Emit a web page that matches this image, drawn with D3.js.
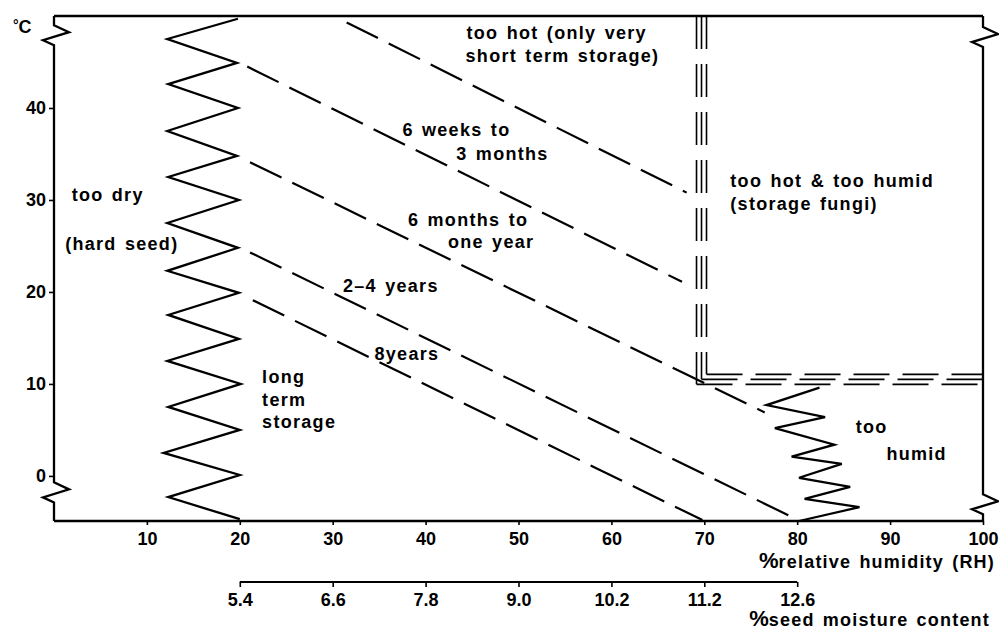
<!DOCTYPE html>
<html>
<head>
<meta charset="utf-8">
<script src="https://cdn.jsdelivr.net/npm/d3@7"></script>
<style>
	body { margin: 0; background: #fff; }
	svg { display: block; }
	.tick text { font-family: "Liberation Sans", Arial, sans-serif; font-weight: bold; font-size: 18px; fill: #000; }
	.tick line { stroke: #000; stroke-width: 1.6; }
	.lbl { font-family: "Liberation Sans", Arial, sans-serif; font-weight: bold; font-size: 18px; letter-spacing: 1.3px; word-spacing: 2px; fill: #000; }
</style>
</head>
<body>
<div id="chart"></div>
<script>

// % relative humidity ticks and temperature ticks
var rhTicks = [10, 20, 30, 40, 50, 60, 70, 80, 90, 100];
var tempTicks = [0, 10, 20, 30, 40];

// second scale: seed moisture content at given RH
var moistureRH = [20, 30, 40, 50, 60, 70, 80];
var moistureLabels = ["5.4", "6.6", "7.8", "9.0", "10.2", "11.2", "12.6"];

// "too dry" zig-zag boundary [RH, degC]
var dryZigzag = [
	[19.8, 49.7], [12.2, 47.5], [19.7, 44.9], [12.3, 42.6], [19.8, 40.0],
	[12.2, 37.5], [19.7, 34.8], [12.3, 32.5], [19.9, 30.0], [12.2, 27.5],
	[19.8, 24.8], [12.2, 22.3], [19.9, 19.9], [12.3, 17.5], [19.9, 14.9],
	[12.2, 12.5], [20.1, 10.0], [12.3, 7.5], [20.0, 5.0], [11.8, 2.5],
	[20.0, 0.1], [12.3, -2.3], [20.0, -4.7]
];

// "too humid" zig-zag boundary [RH, degC]
var humidZigzag = [
	[82.4, 9.6], [76.7, 7.7], [83.0, 6.4], [77.6, 5.2], [84.0, 3.4],
	[79.4, 2.1], [84.8, 1.3], [80.2, -0.2], [85.7, -1.2], [80.8, -2.5],
	[86.7, -3.4], [80.2, -4.9]
];

// dashed storage-life limits, start and end [RH, degC]
var storageLimits = [
	[[31.5, 49.3], [68.1, 30.8]],
	[[20.8, 44.5], [67.6, 21.1]],
	[[21.1, 34.1], [76.5, 6.9]],
	[[21.1, 24.3], [79.7, -4.6]],
	[[21.4, 19.1], [69.8, -4.8]]
];

// too hot / too humid corner [RH, degC]
var hotHumidCorner = [69.7, 10.5];

// axis break marks (degC) on left and right frame
var leftBreaks = [49.0, -0.7];
var rightBreaks = [48.8, -2.0];

// region labels: text, RH, degC (baseline start)
var regionLabels = [
	["too hot (only very", 44.4, 47.5],
	["short term storage)", 44.3, 45.0],
	["6 weeks to", 37.5, 37.0],
	["3 months", 43.3, 34.3],
	["6 months to", 38.1, 27.2],
	["one year", 42.4, 24.8],
	["2\u20134 years", 31.1, 20.0],
	["8years", 34.5, 12.6],
	["long", 22.4, 10.1],
	["term", 22.4, 7.6],
	["storage", 22.4, 5.2],
	["too dry", 1.9, 29.9],
	["(hard seed)", 1.2, 24.6],
	["too hot & too humid", 72.8, 31.4],
	["(storage fungi)", 72.8, 28.9],
	["too", 86.3, 4.7],
	["humid", 89.6, 1.7]
];


var CHART = (function(CHART, undefined)
{
	var margin = {top: 16, right: 16, bottom: 111, left: 54};
	var W = 999, H = 632;
	var width = W - margin.left - margin.right;
	var height = H - margin.top - margin.bottom;

	CHART.init = function()
	{
		var svg = d3.select("#chart").append("svg")
		.attr("width", W)
		.attr("height", H)
		.style("background", "#fff");

		var g = svg.append("g")
		.attr("transform", "translate(" + margin.left + "," + margin.top + ")");

		var x = d3.scaleLinear().domain([0, 100]).range([0, width]);
		var y = d3.scaleLinear().domain([-4.9, 50]).range([height, 0]);

		CHART.drawFrame(g, x, y);
		CHART.drawAxes(g, x, y);
		CHART.drawBoundaries(g, x, y);
		CHART.drawLabels(g, x, y);
	}


	CHART.breakPath = function(xp, yStarts)
	{
		// vertical frame side with a zig-zag break at each temp
		var zig = [[15, 7], [-11, 15], [0, 20]];
		var d = "M" + xp + ",0";
		yStarts.forEach(function(yy)
		{
			d += "L" + xp + "," + yy;
			zig.forEach(function(p)
			{
				d += "L" + (xp + p[0]) + "," + (yy + p[1]);
			})
		})
		d += "L" + xp + "," + height;
		return d;
	}


	CHART.drawFrame = function(g, x, y)
	{
		var frame = g.append("g")
		.attr("class", "frame")
		.attr("fill", "none")
		.attr("stroke", "#000")
		.attr("stroke-width", 2.3)
		.attr("stroke-linejoin", "miter");

		frame.append("line")
		.attr("x1", x(0)).attr("x2", x(100))
		.attr("y1", 0).attr("y2", 0);

		frame.append("line")
		.attr("x1", x(0)).attr("x2", x(100))
		.attr("y1", height).attr("y2", height);

		frame.append("path")
		.attr("d", CHART.breakPath(x(0), leftBreaks.map(y)));

		frame.append("path")
		.attr("d", CHART.breakPath(x(100), rightBreaks.map(y)));
	}


	CHART.drawAxes = function(g, x, y)
	{
		var xAxis = g.append("g")
		.attr("class", "xAxis")
		.attr("transform", "translate(0," + height + ")")
		.call(d3.axisBottom(x).tickValues(rhTicks).tickSize(4).tickPadding(7));
		xAxis.select(".domain").remove();

		var yAxis = g.append("g")
		.attr("class", "yAxis")
		.call(d3.axisLeft(y).tickValues(tempTicks).tickSize(5).tickPadding(3));
		yAxis.select(".domain").remove();

		// seed moisture scale, sits under the RH axis
		var mY = 566;
		var mAxis = g.append("g")
		.attr("class", "moistAxis")
		.attr("transform", "translate(0," + mY + ")")
		.call(d3.axisBottom(x).tickValues(moistureRH)
			.tickFormat(function(d, i) { return moistureLabels[i]; })
			.tickSize(5).tickPadding(6));
		mAxis.select(".domain").remove();

		mAxis.append("line")
		.attr("x1", x(moistureRH[0]))
		.attr("x2", x(moistureRH[moistureRH.length - 1]))
		.attr("stroke", "#000")
		.attr("stroke-width", 2);

		var deg = g.append("text")
		.attr("class", "lbl")
		.attr("x", -41)
		.attr("y", 17)
		.style("letter-spacing", "0px");
		deg.append("tspan").style("font-size", "14px").attr("dy", -3).text("\u00b0");
		deg.append("tspan").attr("dy", 3).text("C");

		var t1 = g.append("text")
		.attr("class", "lbl")
		.attr("x", W - margin.left - 4)
		.attr("y", 552)
		.attr("text-anchor", "end")
		.style("letter-spacing", "1.2px");
		t1.append("tspan").style("font-size", "22px").style("letter-spacing", "0px").text("%");
		t1.append("tspan").text("relative humidity (RH)");

		var t2 = g.append("text")
		.attr("class", "lbl")
		.attr("x", W - margin.left - 9)
		.attr("y", 610)
		.attr("text-anchor", "end")
		.style("letter-spacing", "1.2px");
		t2.append("tspan").style("font-size", "22px").style("letter-spacing", "0px").text("%");
		t2.append("tspan").text("seed moisture content");
	}


	CHART.drawBoundaries = function(g, x, y)
	{
		var line = d3.line()
		.x(function(d) { return x(d[0]); })
		.y(function(d) { return y(d[1]); });

		g.append("path")
		.datum(dryZigzag)
		.attr("class", "dryZigzag")
		.attr("d", line)
		.attr("fill", "none")
		.attr("stroke", "#000")
		.attr("stroke-width", 2.3);

		g.append("path")
		.datum(humidZigzag)
		.attr("class", "humidZigzag")
		.attr("d", line)
		.attr("fill", "none")
		.attr("stroke", "#000")
		.attr("stroke-width", 2.3);

		g.append("g")
		.attr("class", "storageLimits")
		.selectAll("path")
		.data(storageLimits)
		.enter().append("path")
		.attr("d", line)
		.attr("fill", "none")
		.attr("stroke", "#000")
		.attr("stroke-width", 2.2)
		.attr("stroke-dasharray", "35,12");

		// triple dashed line: too hot (vertical) and too humid (horizontal)
		var cx = x(hotHumidCorner[0]);
		var cy = y(hotHumidCorner[1]);
		var gap = 5;
		var triple = g.append("g")
		.attr("class", "hotHumid")
		.attr("fill", "none")
		.attr("stroke", "#000")
		.attr("stroke-width", 1.6);

		[-1, 0, 1].forEach(function(k)
		{
			var xx = cx + k * gap;
			var yy = cy - k * gap;
			triple.append("path")
			.attr("d", "M" + xx + "," + y(50) + "L" + xx + "," + yy)
			.attr("stroke-dasharray", "33,15");
			triple.append("path")
			.attr("d", "M" + xx + "," + yy + "L" + x(100) + "," + yy)
			.attr("stroke-dasharray", "36,13");
		})
	}


	CHART.drawLabels = function(g, x, y)
	{
		g.append("g")
		.attr("class", "regionLabels")
		.selectAll("text")
		.data(regionLabels)
		.enter().append("text")
		.attr("class", "lbl")
		.attr("x", function(d) { return x(d[1]); })
		.attr("y", function(d) { return y(d[2]); })
		.text(function(d) { return d[0]; });
	}


	return CHART;

}(CHART || {}));


CHART.init();

</script>
</body>
</html>
